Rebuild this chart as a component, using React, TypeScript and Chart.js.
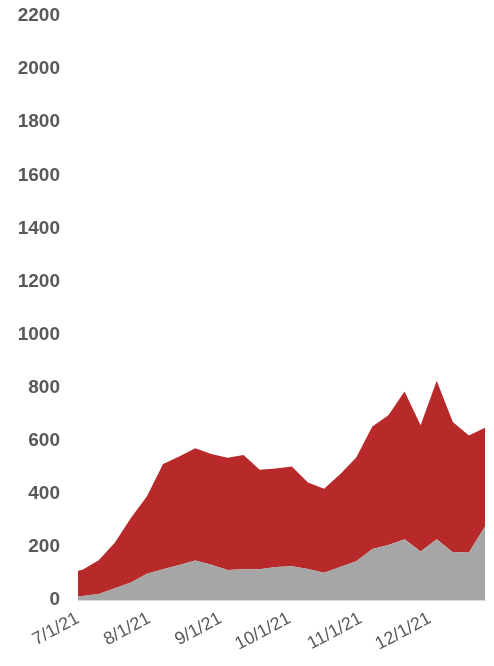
import React, { useEffect, useRef } from "react";
import { Chart, registerables } from "chart.js";

Chart.register(...registerables);

const weekDates = [
  "2021-06-26", "2021-07-03", "2021-07-10", "2021-07-17", "2021-07-24", "2021-07-31",
  "2021-08-07", "2021-08-14", "2021-08-21", "2021-08-28", "2021-09-04", "2021-09-11",
  "2021-09-18", "2021-09-25", "2021-10-02", "2021-10-09", "2021-10-16", "2021-10-23",
  "2021-10-30", "2021-11-06", "2021-11-13", "2021-11-20", "2021-11-27", "2021-12-04",
  "2021-12-11", "2021-12-18", "2021-12-25",
];

const grayValues = [
  12, 15, 23, 44, 66, 99, 116, 132, 149, 133, 113, 116, 116, 124, 127, 117, 103, 124,
  146, 192, 207, 229, 183, 229, 180, 179, 277,
];

const redValues = [
  88, 99, 127, 172, 243, 292, 396, 409, 423, 417, 423, 430, 375, 371, 376, 326, 316,
  350, 391, 462, 489, 556, 475, 597, 491, 441, 372,
];

const monthTickDates = ["2021-07-01", "2021-08-01", "2021-09-01", "2021-10-01", "2021-11-01", "2021-12-01"];
const monthTickLabels = ["7/1/21", "8/1/21", "9/1/21", "10/1/21", "11/1/21", "12/1/21"];

const axisStart = "2021-07-01";
const axisEnd = "2021-12-25";

const yTicks = [0, 200, 400, 600, 800, 1000, 1200, 1400, 1600, 1800, 2000, 2200];

const dayOf = (s: string) => {
  const [y, m, d] = s.split("-").map(Number);
  return (Date.UTC(y, m - 1, d) - Date.UTC(2021, 6, 1)) / 86400000;
};

export default function App() {
  const ref = useRef<HTMLCanvasElement | null>(null);

  useEffect(() => {
    if (!ref.current) return;
    const xs = weekDates.map(dayOf);
    const tickDays = monthTickDates.map(dayOf);
    const chart = new Chart(ref.current, {
      type: "line",
      data: {
        datasets: [
          {
            label: "gray",
            data: xs.map((x, i) => ({ x, y: grayValues[i] })),
            backgroundColor: "#a6a6a6",
            borderWidth: 0,
            pointRadius: 0,
            fill: "origin",
            tension: 0,
          },
          {
            label: "red",
            data: xs.map((x, i) => ({ x, y: redValues[i] })),
            backgroundColor: "#b8292a",
            borderWidth: 0,
            pointRadius: 0,
            fill: "-1",
            tension: 0,
          },
        ],
      },
      options: {
        animation: false,
        responsive: true,
        maintainAspectRatio: false,
        layout: { padding: { top: 16, right: 9, left: 0, bottom: 0 } },
        plugins: { legend: { display: false }, tooltip: { enabled: false } },
        scales: {
          x: {
            type: "linear",
            min: dayOf(axisStart),
            max: dayOf(axisEnd),
            grid: { display: false, drawTicks: false },
            border: { display: true, color: "#d9d9d9", width: 1 },
            afterBuildTicks: (scale: any) => {
              scale.ticks = tickDays.map((v) => ({ value: v }));
            },
            afterFit: (scale: any) => {
              scale.height = 66;
              scale.paddingLeft = 0;
              scale.paddingRight = 0;
            },
            ticks: {
              autoSkip: false,
              minRotation: 28,
              maxRotation: 28,
              padding: 8,
              color: "#595959",
              font: { family: "'Liberation Sans', Arial, sans-serif", size: 18 },
              callback: (v: any) => {
                const idx = tickDays.indexOf(Number(v));
                return idx >= 0 ? monthTickLabels[idx] : "";
              },
            },
          },
          y: {
            stacked: true,
            min: 0,
            max: 2200,
            grid: { display: false, drawTicks: false },
            border: { display: false },
            afterBuildTicks: (scale: any) => {
              scale.ticks = yTicks.map((v) => ({ value: v }));
            },
            afterFit: (scale: any) => {
              scale.width = 78;
              scale.paddingTop = 0;
              scale.paddingBottom = 0;
            },
            ticks: {
              padding: 18,
              color: "#595959",
              font: { family: "'Liberation Sans', Arial, sans-serif", size: 19, weight: "bold" },
              callback: (v: any) => String(v),
            },
          },
        },
      },
    });
    return () => chart.destroy();
  }, []);

  return (
    <div style={{ position: "fixed", left: 0, top: 0, width: 494, height: 666, background: "#fff" }}>
      <canvas ref={ref} />
    </div>
  );
}
